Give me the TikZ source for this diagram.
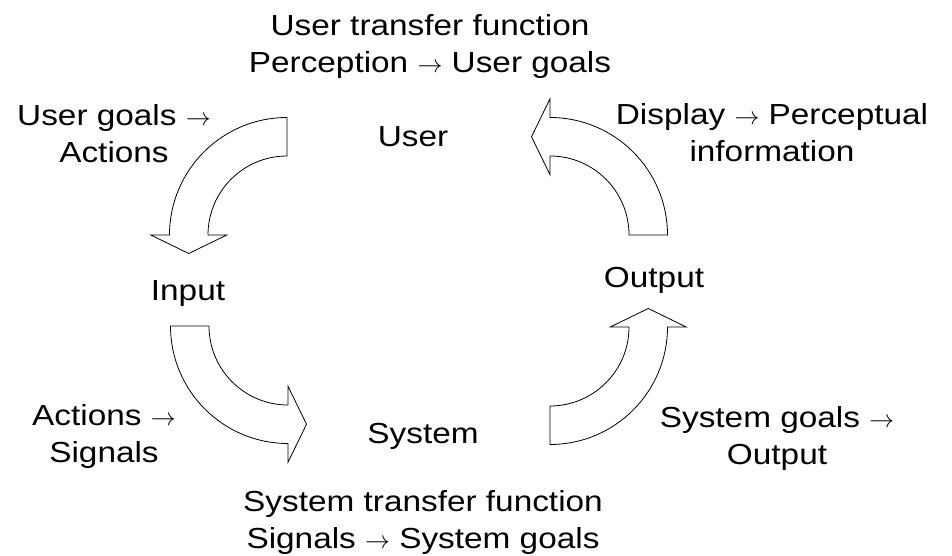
\documentclass[tikz,border=0pt]{standalone}
\usepackage{fontspec}
\setmainfont{Liberation Sans}[FakeStretch=1.15]
\usetikzlibrary{calc}

% radii of the curved block arrows: outer, inner, centre line, head half-width, head length
\newcommand{\ArcOut}{117.5}
\newcommand{\ArcIn}{79}
\newcommand{\ArcMid}{98.25}
\newcommand{\HeadHalf}{38}
\newcommand{\HeadLen}{18.5}

\tikzset{
  label text/.style={inner sep=0pt, anchor=base, align=center,
    font=\fontsize{29}{37}\selectfont},
  arrowbody/.style={draw=black, fill=white, line width=0.8pt, line join=miter},
  % quarter-turn block arrow around the pic origin, from angle #1 to angle #2
  pics/turnarrow/.style n args={2}{code={
    \draw[arrowbody] (#1:\ArcOut) arc[start angle=#1, end angle=#2, radius=\ArcOut]
      -- (#2:\ArcMid+\HeadHalf)
      -- ($(#2:\ArcMid)+(#2-90:\HeadLen)$)
      -- (#2:\ArcMid-\HeadHalf)
      -- (#2:\ArcIn)
      arc[start angle=#2, end angle=#1, radius=\ArcIn] -- cycle;
  }}
}

\begin{document}
\begin{tikzpicture}[x=1pt, y=-1pt]
  \useasboundingbox (0,0) rectangle (952,556);

  % the four turning arrows of the loop
  \pic at (287,235) {turnarrow={-90}{-180}};
  \pic at (288,326) {turnarrow={180}{90}};
  \pic at (550,327) {turnarrow={90}{0}};
  \pic at (550,235) {turnarrow={0}{-90}};

  % stations of the loop
  \node[label text] (user)   at (413,147) {User};
  \node[label text] (input)  at (188,300) {Input};
  \node[label text] (output) at (654,287) {Output};
  \node[label text] (system) at (423,443) {System};

  % transfer functions (anchored on the baseline of their last line)
  \node[label text] (usertf) at (430,73)
    {User transfer function\\Perception $\rightarrow$ User goals};
  \node[label text] (systf) at (423,548)
    {System transfer function\\Signals $\rightarrow$ System goals};

  % mappings along the arrows
  \node[label text] (goalsact) at (114,163) {User goals $\rightarrow$\\Actions};
  \node[label text] (actsig)   at (104,462) {Actions $\rightarrow$\\Signals};
  \node[label text] (sysout)   at (777,464) {System goals $\rightarrow$\\Output};
  \node[label text] (disperc)  at (772,162) {Display $\rightarrow$ Perceptual\\information};
\end{tikzpicture}
\end{document}
